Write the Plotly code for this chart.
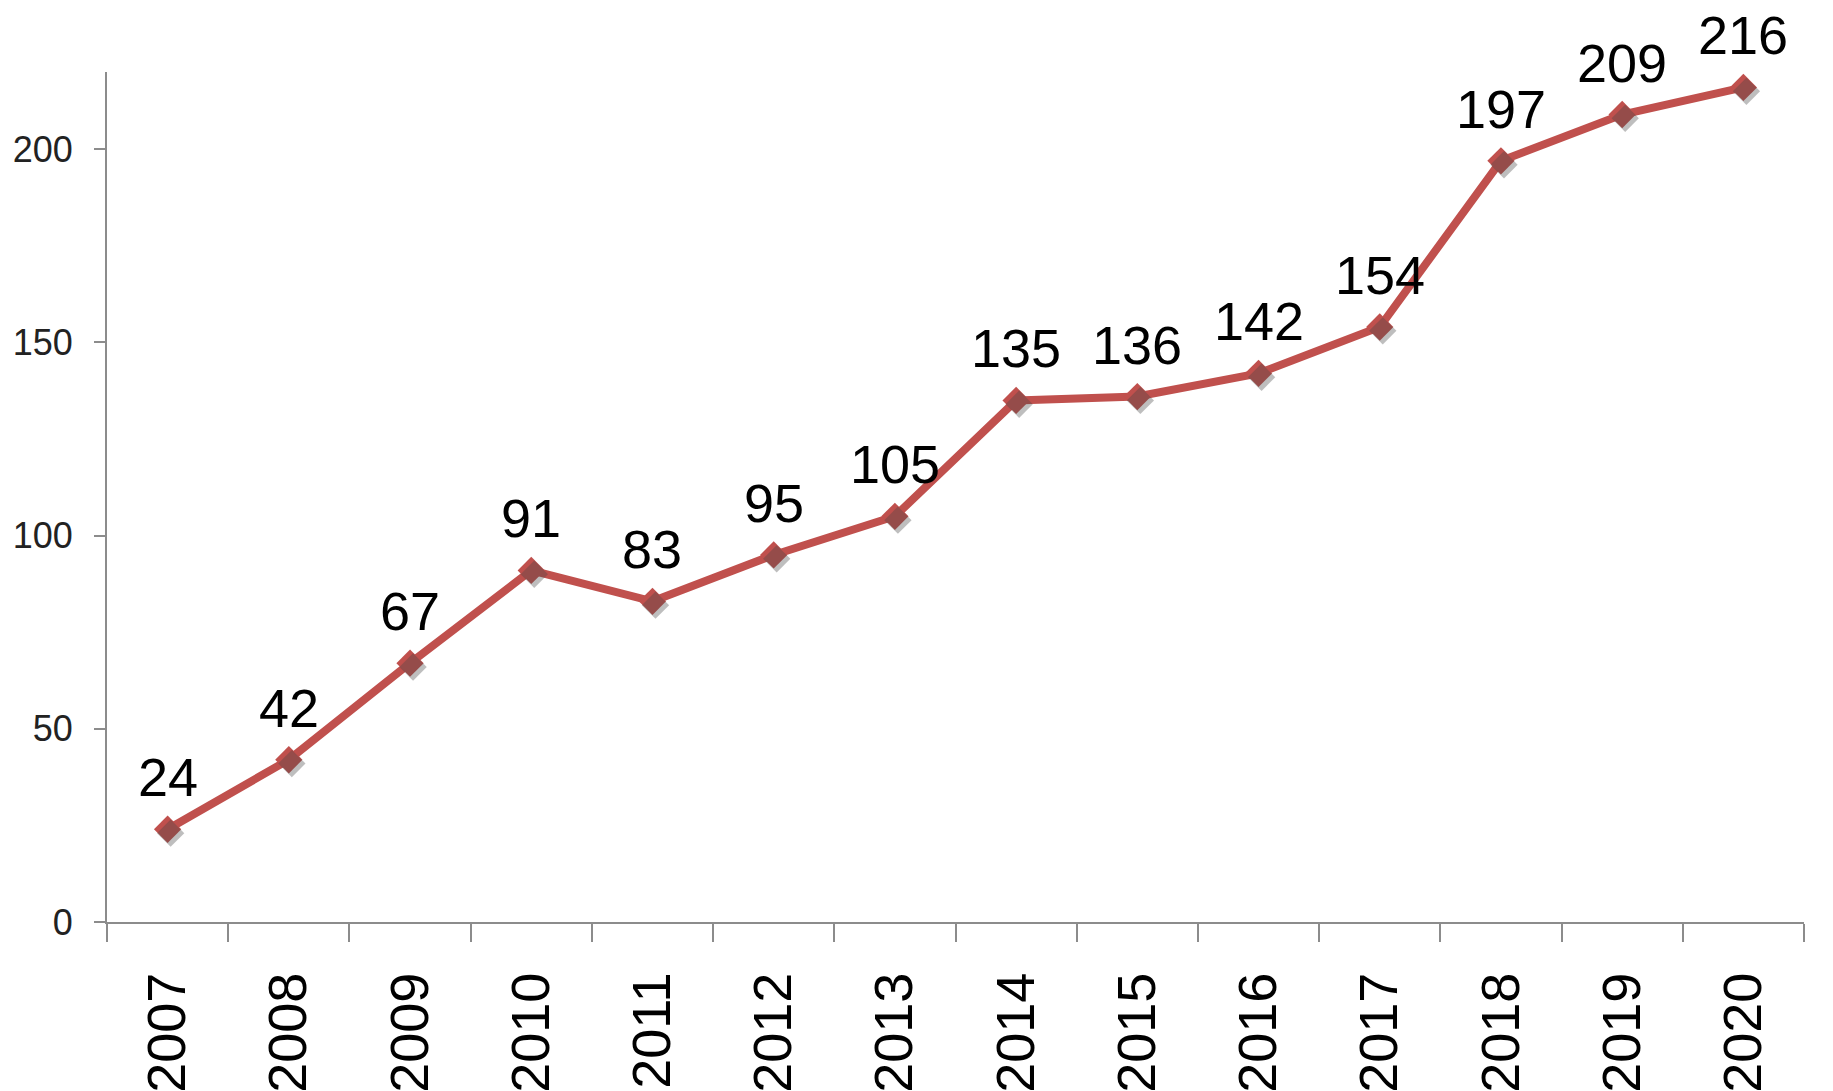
import plotly.graph_objects as go

years = ["2007", "2008", "2009", "2010", "2011", "2012", "2013",
         "2014", "2015", "2016", "2017", "2018", "2019", "2020"]
values = [24, 42, 67, 91, 83, 95, 105, 135, 136, 142, 154, 197, 209, 216]
y_ticks = [0, 50, 100, 150, 200]

LINE = "#C0504D"
AXIS = "#8C8C8C"
FONT = "Liberation Sans, Arial, sans-serif"

Y_MAX = 220
SH_DX = 0.025   # shadow offset (category units, ~3px)
SH_DY = 1.0     # shadow offset (value units, ~4px)

fig = go.Figure()
# soft marker shadow drawn on a hidden, slightly offset pair of axes
fig.add_trace(go.Scatter(
    x=years, y=values, xaxis="x2", yaxis="y2",
    mode="markers",
    marker=dict(symbol="diamond", size=21, color="rgba(70,70,70,0.35)"),
    cliponaxis=False, showlegend=False, hoverinfo="skip",
))
fig.add_trace(go.Scatter(
    x=years, y=values,
    mode="lines+markers",
    line=dict(color=LINE, width=8),
    marker=dict(symbol="diamond", size=21, color=LINE),
    cliponaxis=False,
    showlegend=False,
))

# data labels: placed on the category axis by the category's index
annotations = [
    dict(x=i, y=v, xref="x", yref="y", text=str(v), showarrow=False,
         xanchor="center", yanchor="middle", yshift=52,
         font=dict(family=FONT, size=54, color="#000000"))
    for i, v in enumerate(values)
]
annotations.append(dict(
    text="4", xref="paper", yref="paper", x=1.003, y=-0.184,
    xanchor="left", yanchor="top", showarrow=False,
    font=dict(family=FONT, size=54, color="#000000"),
))

fig.update_layout(
    width=1833, height=1091,
    margin=dict(l=99, r=37, t=64, b=177),
    paper_bgcolor="white", plot_bgcolor="white",
    font=dict(family=FONT),
    xaxis=dict(
        type="category",
        range=[-0.5, 13.5],
        showline=True, linecolor=AXIS, linewidth=2,
        ticks="outside", tickson="boundaries", ticklen=18, tickwidth=2, tickcolor=AXIS,
        tickangle=-90,
        tickfont=dict(family=FONT, size=54, color="#000000"),
        ticklabelstandoff=27,
        showgrid=False, zeroline=False, automargin=False,
    ),
    yaxis=dict(
        range=[0, Y_MAX],
        tickvals=y_ticks,
        showline=True, linecolor=AXIS, linewidth=2,
        ticks="outside", ticklen=11, tickwidth=2, tickcolor=AXIS,
        tickfont=dict(family=FONT, size=36, color="#222222"),
        ticklabelstandoff=14,
        showgrid=False, zeroline=False, automargin=False,
    ),
    xaxis2=dict(
        type="category", overlaying="x", anchor="y2",
        range=[-0.5 - SH_DX, 13.5 - SH_DX],
        visible=False, showgrid=False, zeroline=False,
    ),
    yaxis2=dict(
        overlaying="y", anchor="x2",
        range=[SH_DY, Y_MAX + SH_DY],
        visible=False, showgrid=False, zeroline=False,
    ),
    annotations=annotations,
)

fig.write_html("out.html")
